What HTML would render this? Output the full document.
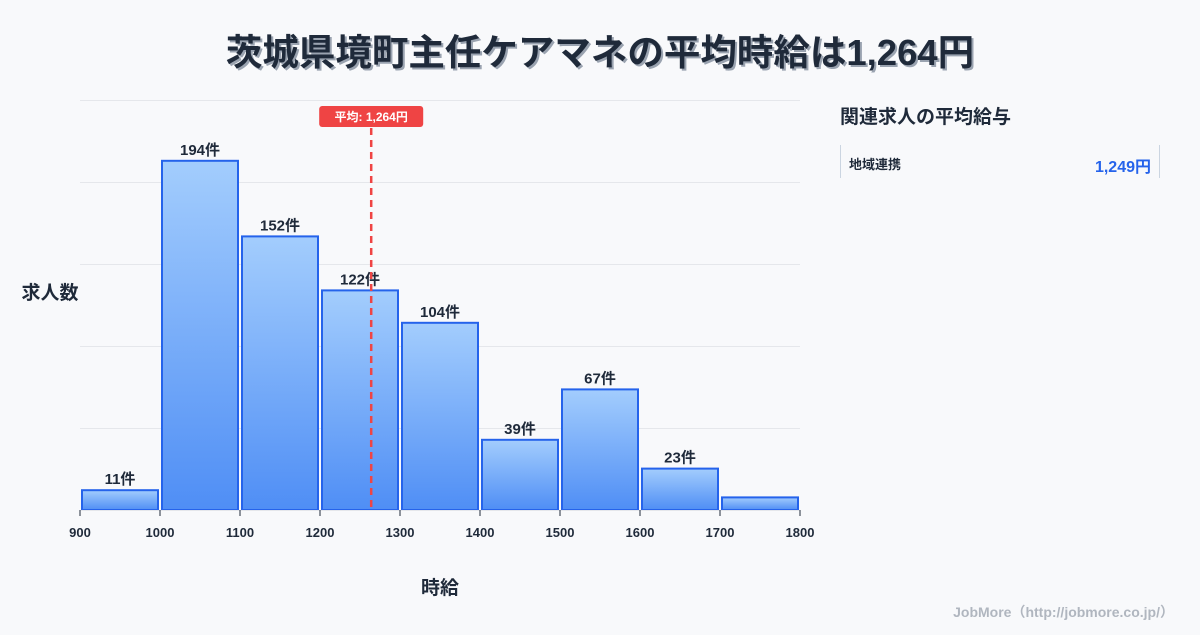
<!DOCTYPE html>
<html><head><meta charset="utf-8"><style>
body{margin:0;background:#f8f9fb;width:1200px;height:630px;overflow:hidden;font-family:"Liberation Sans","Noto Sans CJK JP",sans-serif;}
svg text{font-family:"Liberation Sans","Noto Sans CJK JP",sans-serif;}
</style></head><body>
<svg id="c" width="1200" height="630" xmlns="http://www.w3.org/2000/svg">
<defs><linearGradient id="g" x1="0" y1="0" x2="0" y2="1"><stop offset="0" stop-color="#a3cdfd"/><stop offset="1" stop-color="#4f8ef5"/></linearGradient></defs>
<text x="602" y="67" text-anchor="middle" font-size="36.5" font-weight="bold" fill="#9aa3b0">茨城県境町主任ケアマネの平均時給は1,264円</text>
<text x="600" y="65" text-anchor="middle" font-size="36.5" font-weight="bold" fill="#1f2a3a">茨城県境町主任ケアマネの平均時給は1,264円</text>
<g id="grid"></g><g id="bars"></g><g id="xt"></g>
<text x="50" y="299" text-anchor="middle" font-size="19" font-weight="bold" fill="#1f2a3a">求人数</text>
<text x="440" y="594" text-anchor="middle" font-size="19" font-weight="bold" fill="#1f2a3a">時給</text>
<g id="avg"></g>
<text x="840" y="123" font-size="19" font-weight="bold" fill="#1f2a3a">関連求人の平均給与</text>
<line x1="840.5" y1="145" x2="840.5" y2="178" stroke="#cbd5e1"/>
<line x1="1159.5" y1="145" x2="1159.5" y2="178" stroke="#cbd5e1"/>
<text x="849" y="169" font-size="13" font-weight="bold" fill="#1f2a3a">地域連携</text>
<text x="1151" y="172" text-anchor="end" font-size="16" font-weight="bold" fill="#2563eb">1,249円</text>
<text x="1174" y="617" text-anchor="end" font-size="14" font-weight="bold" fill="#b0b6bf">JobMore（http://jobmore.co.jp/）</text>
</svg>
<script>
const bins=[900,1000,1100,1200,1300,1400,1500,1600,1700];
const counts=[11,194,152,122,104,39,67,23,7];
const xTicks=[900,1000,1100,1200,1300,1400,1500,1600,1700,1800];
const avgValue=1264;
const avgLabel="平均: 1,264円";
const NS="http://www.w3.org/2000/svg";
const X=v=>80+(v-900)*0.8, Y=v=>510-v*1.8;
function mk(t,a,p){const e=document.createElementNS(NS,t);for(const k in a)e.setAttribute(k,a[k]);p.appendChild(e);return e;}
const grid=document.getElementById('grid');
for(let i=0;i<6;i++){const l=mk('line',{x1:80,x2:800,y1:100+82*i+0.5,y2:100+82*i+0.5,stroke:'#e5e7eb'},grid);

}
const bars=document.getElementById('bars');
counts.forEach((c,i)=>{const x0=X(bins[i]),x1=X(bins[i]+100);
const r=mk('rect',{x:x0+2,y:Y(c),width:x1-x0-4,height:510-Y(c),fill:'url(#g)',stroke:'#2563eb','stroke-width':2},bars);


if(c>=10){const t=mk('text',{x:(x0+x1)/2,y:Y(c)-6,'text-anchor':'middle','font-size':15,'font-weight':'bold',fill:'#1f2a3a'},bars);t.textContent=c+'件';

}
});
const xt=document.getElementById('xt');
mk('line',{x1:80,x2:800,y1:510.5,y2:510.5,stroke:'#e5e7eb'},xt);
xTicks.forEach(v=>{const l=mk('line',{x1:X(v),x2:X(v),y1:510,y2:516,stroke:'#1f2a3a'},xt);


const t=mk('text',{x:X(v),y:537,'text-anchor':'middle','font-size':13,'font-weight':'bold',fill:'#1f2a3a'},xt);t.textContent=v;

});
const av=document.getElementById('avg');const ax=X(avgValue);
const al=mk('line',{x1:ax,x2:ax,y1:128,y2:510,stroke:'#ef4444','stroke-width':2.5,'stroke-dasharray':'7,5'},av);


const ab=mk('rect',{x:ax-52,y:106,width:104,height:21,rx:3,fill:'#ef4444'},av);


const at=mk('text',{x:ax,y:121,'text-anchor':'middle','font-size':12,'font-weight':'bold',fill:'#fff'},av);at.textContent=avgLabel;


</script>
</body></html>
